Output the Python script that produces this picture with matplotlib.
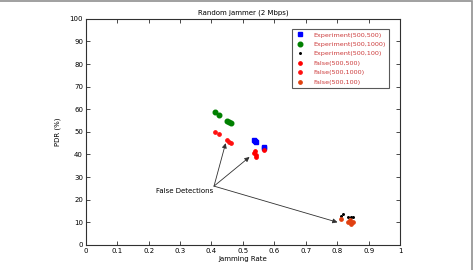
import matplotlib
matplotlib.use("Agg")
import matplotlib.pyplot as plt
from matplotlib.lines import Line2D

# Experiment points (jamming rate, PDR %)
exp_500_500_x = [0.536, 0.540, 0.543, 0.566, 0.568]
exp_500_500_y = [46.5, 46.0, 45.6, 43.5, 43.0]
exp_500_1000_x = [0.411, 0.425, 0.450, 0.456, 0.462]
exp_500_1000_y = [58.7, 57.5, 54.9, 54.3, 53.8]
exp_500_100_x = [0.813, 0.818, 0.834, 0.843, 0.851]
exp_500_100_y = [12.8, 13.7, 12.5, 12.2, 12.2]

# False detections
false_500_500_x = [0.538, 0.536, 0.541, 0.543, 0.568]
false_500_500_y = [41.6, 40.8, 39.8, 38.8, 42.0]
false_500_1000_x = [0.411, 0.425, 0.450, 0.455, 0.461]
false_500_1000_y = [50.1, 49.0, 46.2, 45.6, 45.0]
false_500_100_x = [0.811, 0.835, 0.844, 0.851, 0.840]
false_500_100_y = [11.4, 10.3, 9.3, 10.0, 11.0]

labels = ["Experiment(500,500)", "Experiment(500,1000)", "Experiment(500,100)",
          "False(500,500)", "False(500,1000)", "False(500,100)"]

arrow_tail = (0.408, 26.0)
arrow_heads = [(0.445, 45.0), (0.521, 38.9), (0.801, 10.0)]

fig = plt.figure(figsize=(4.74, 2.70), dpi=100)
ax = fig.add_axes([0.181, 0.093, 0.663, 0.837])

ax.plot(exp_500_500_x, exp_500_500_y, 's', color='#0000ff', ms=3.2, ls='none')
ax.plot(exp_500_1000_x, exp_500_1000_y, 'o', color='#008000', ms=3.3, ls='none')
ax.plot(exp_500_100_x, exp_500_100_y, '.', color='black', ms=2.3, ls='none')
ax.plot(false_500_500_x, false_500_500_y, 'o', color='#ff0000', ms=2.4, ls='none')
ax.plot(false_500_1000_x, false_500_1000_y, 'o', color='#ff1010', ms=2.4, ls='none')
ax.plot(false_500_100_x, false_500_100_y, 'o', color='#e04010', ms=2.4, ls='none')

for hx, hy in arrow_heads:
    ax.annotate("", xy=(hx, hy), xytext=arrow_tail,
                arrowprops=dict(arrowstyle='-|>', color='#303030', lw=0.6,
                                mutation_scale=7, shrinkA=0, shrinkB=0))
ax.text(0.405, 24.0, "False Detections", fontsize=5, ha='right', va='center')

ax.set_xlim(0, 1)
ax.set_ylim(0, 100)
ax.set_xticks([i / 10 for i in range(11)])
ax.set_xticklabels(["0", "0.1", "0.2", "0.3", "0.4", "0.5", "0.6", "0.7", "0.8", "0.9", "1"])
ax.set_yticks(range(0, 101, 10))
ax.tick_params(direction='in', top=True, right=True, labelsize=5, length=3, width=0.5, pad=2)
for s in ax.spines.values():
    s.set_linewidth(0.8)
    s.set_color('#303030')
ax.set_xlabel("Jamming Rate", fontsize=5, labelpad=2)
ax.set_ylabel("PDR (%)", fontsize=5, labelpad=6)
ax.set_title("Random jammer (2 Mbps)", fontsize=5, pad=3)

handles = [
    Line2D([], [], marker='s', color='#0000ff', ls='none', ms=3.2),
    Line2D([], [], marker='o', color='#008000', ls='none', ms=3.3),
    Line2D([], [], marker='.', color='black', ls='none', ms=2.3),
    Line2D([], [], marker='o', color='#ff0000', ls='none', ms=2.4),
    Line2D([], [], marker='o', color='#ff1010', ls='none', ms=2.4),
    Line2D([], [], marker='o', color='#e04010', ls='none', ms=2.4),
]
leg = ax.legend(handles, labels, loc='upper right', bbox_to_anchor=(0.965, 0.957),
                fontsize=4.6, frameon=True, fancybox=False, borderpad=0.55,
                labelspacing=0.62, handlelength=1.4, handletextpad=1.3, borderaxespad=0)
leg.get_frame().set_edgecolor('#303030')
leg.get_frame().set_linewidth(0.8)
for t in leg.get_texts():
    t.set_color('#cc3a3a')

# outer border of the figure panel
fig.add_artist(plt.Rectangle((-0.01, -0.01), 1.006, 1.005, transform=fig.transFigure,
                             fill=False, edgecolor='#909090', lw=1.2))

fig.savefig("out.png", dpi=100)
